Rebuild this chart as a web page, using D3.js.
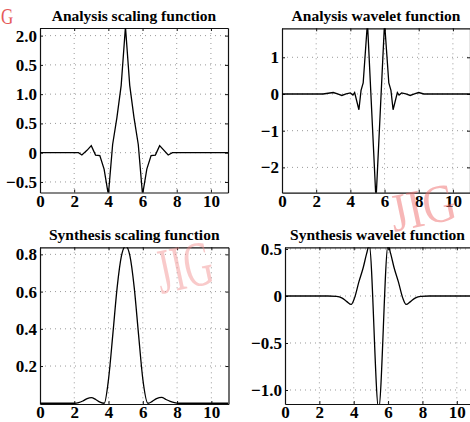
<!DOCTYPE html>
<html><head><meta charset="utf-8">
<script src="https://cdn.jsdelivr.net/npm/d3@7"></script>
<style>body{margin:0;background:#fff}svg{display:block}</style>
</head><body>
<svg id="c" width="470" height="422"></svg>
<script>
// ---- data ----
const titles = ["Analysis scaling function","Analysis wavelet function","Synthesis scaling function","Synthesis wavelet function"];
const xTicks = [0,2,4,6,8,10];
const xTickLabels = ["0","2","4","6","8","10"];

const p1X = [0,2.25,2.45,2.75,3.0,3.25,3.5,3.75,4.0,4.25,4.5,4.75,5.0,5.25,5.5,5.75,6.0,6.25,6.5,6.75,7.0,7.5,7.75,11];
const p1Y = [0,0,-0.04,0.04,0.12,-0.04,-0.05,-0.28,-0.72,0.14,0.6,1.15,2.15,1.15,0.6,0.14,-0.72,-0.28,-0.05,-0.04,0.12,-0.04,0,0];
const p1Ticks = [2.0,1.5,1.0,0.5,0,-0.5];
const p1TickLabels = ["2.0","0.5","1.0","0.5","0","\u22120.5"];

const p2X = [0,2.4,2.7,3.0,3.25,3.5,3.75,4.0,4.15,4.25,4.5,4.625,4.75,5.0,5.5,6.0,6.25,6.375,6.5,6.75,6.85,7.0,7.25,7.5,7.75,8.0,8.3,11];
const p2Y = [0,0,0.02,0.04,0.0,-0.04,0.0,0.03,-0.03,0.04,-0.43,0.1,0.3,1.95,-2.9,1.95,0.3,0.1,-0.43,0.04,-0.03,0.03,0.0,-0.04,0.0,0.04,0,0];
const p2Ticks = [1,0,-1,-2];
const p2TickLabels = ["1","0","\u22121","\u22122"];

const p3X = [0,2.0,2.25,2.5,2.75,3.0,3.25,3.5,3.75,4.0,4.25,4.5,4.75,5.0,5.25,5.5,5.75,6.0,6.3,6.55,6.8,7.1,7.35,7.6,7.85,8.1,11];
const p3Y = [0,0,0.003,0.012,0.025,0.03,0.02,0.006,0.0,0.13,0.37,0.62,0.79,0.845,0.79,0.62,0.37,0.13,0.0,0.01,0.025,0.032,0.02,0.01,0.003,0,0];
const p3Ticks = [0.2,0.4,0.6,0.8];
const p3TickLabels = ["0.2","0.4","0.6","0.8"];

const p4X = [0,2.5,3.0,3.3,3.6,3.85,4.05,4.3,4.55,4.75,4.9,5.45,6.0,6.15,6.35,6.6,6.85,7.05,7.3,7.6,7.9,8.4,11];
const p4Y = [0,0,-0.005,-0.02,-0.06,-0.09,-0.02,0.15,0.3,0.45,0.54,-1.2,0.54,0.45,0.3,0.15,-0.02,-0.09,-0.06,-0.02,-0.005,0,0];
const p4Ticks = [0.5,0,-0.5,-1.0];
const p4TickLabels = ["0.5","0","\u22120.5","\u22121.0"];

// ---- layout ----
const panels = [
  {title:titles[0], xs:p1X, ys:p1Y, ticks:p1Ticks, labels:p1TickLabels, L:40, R:228, T:28, B:192.5, yd:[-0.68,2.13], curve:d3.curveLinear, ty:20.5},
  {title:titles[1], xs:p2X, ys:p2Y, ticks:p2Ticks, labels:p2TickLabels, L:282, R:470, T:28.3, B:192.7, yd:[-2.69,1.79], curve:d3.curveLinear, ty:20.5},
  {title:titles[2], xs:p3X, ys:p3Y, ticks:p3Ticks, labels:p3TickLabels, L:40, R:228.5, T:247.3, B:404, yd:[-0.004,0.838], curve:d3.curveMonotoneX, ty:240},
  {title:titles[3], xs:p4X, ys:p4Y, ticks:p4Ticks, labels:p4TickLabels, L:285, R:474, T:247.3, B:404, yd:[-1.149,0.518], curve:d3.curveMonotoneX, ty:240}
];

const svg = d3.select("#c");
const FONT = "'Liberation Serif','Times New Roman',serif";

function mark(txt,x,y,size,rot,sx,sy,col,op){
  svg.append("text").attr("transform",`translate(${x},${y}) rotate(${rot}) scale(${sx},${sy})`)
    .attr("font-family",FONT).attr("font-size",size).attr("fill",col).attr("opacity",op).text(txt);
}

panels.forEach((p,i)=>{
  const x = d3.scaleLinear().domain([0,11]).range([p.L,p.R]);
  const y = d3.scaleLinear().domain(p.yd).range([p.B,p.T]);
  const g = svg.append("g");
  const id = "clip"+i;
  svg.append("clipPath").attr("id",id).append("rect")
    .attr("x",p.L).attr("y",p.T).attr("width",p.R-p.L).attr("height",p.B-p.T);

  g.append("g").selectAll("line").data(xTicks.filter(v=>v>0)).join("line")
    .attr("x1",d=>x(d)).attr("x2",d=>x(d)).attr("y1",p.T).attr("y2",p.B)
    .attr("stroke","#999").attr("stroke-width",1).attr("stroke-dasharray","1,4");
  g.append("g").selectAll("line").data(p.ticks).join("line")
    .attr("y1",d=>y(d)).attr("y2",d=>y(d)).attr("x1",p.L).attr("x2",p.R)
    .attr("stroke","#999").attr("stroke-width",1).attr("stroke-dasharray","1,4");

  const ax = (gen,tx,ty,lab)=>{
    const a = g.append("g").attr("transform",`translate(${tx},${ty})`).call(gen);
    a.attr("font-family",null).attr("font-size",null);
    a.select(".domain").attr("stroke","#111").attr("stroke-width",1.2);
    a.selectAll(".tick line").attr("stroke","#111");
    a.selectAll("text").style("font-family",FONT).style("font-weight","bold").style("font-size","17px").attr("fill","#000");
    if(!lab) a.selectAll("text").remove();
    return a;
  };
  ax(d3.axisBottom(x).tickValues(xTicks).tickFormat((d,k)=>xTickLabels[k]).tickSizeInner(-3).tickSizeOuter(0).tickPadding(2),0,p.B,true);
  ax(d3.axisTop(x).tickValues(xTicks).tickSizeInner(-3).tickSizeOuter(0),0,p.T,false);
  ax(d3.axisLeft(y).tickValues(p.ticks).tickFormat((d,k)=>p.labels[k]).tickSizeInner(-3).tickSizeOuter(0).tickPadding(3),p.L,0,true);
  ax(d3.axisRight(y).tickValues(p.ticks).tickSizeInner(-3).tickSizeOuter(0),p.R,0,false);

  const data = p.xs.map((v,k)=>[v,p.ys[k]]);
  g.append("path").datum(data).attr("clip-path",`url(#${id})`)
    .attr("d",d3.line().x(d=>x(d[0])).y(d=>y(d[1])).curve(p.curve))
    .attr("fill","none").attr("stroke","#000").attr("stroke-width",1.3);

  svg.append("text").attr("x",(p.L+Math.min(p.R,470))/2).attr("y",p.ty).attr("text-anchor","middle")
    .style("font-family",FONT).style("font-weight","bold").style("font-size","15.5px").text(p.title);
});

mark("G",1,24,20,0,0.85,1.2,"#e03030",0.8);
mark("JIG",161,294,46,-12,0.85,1.4,"#f28c8c",0.45);
mark("JIG",394,232,40,-12,1.15,1.35,"#f07070",0.5);
</script>
</body></html>
